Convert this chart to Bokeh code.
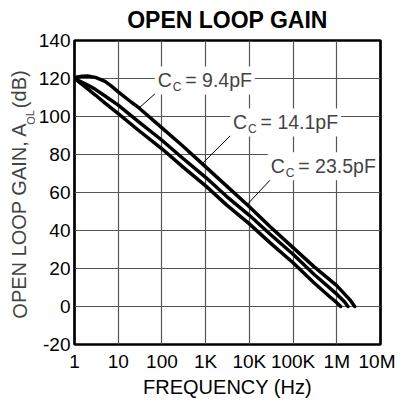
from bokeh.plotting import figure
from bokeh.models import FixedTicker, Label
from bokeh.layouts import row
from bokeh.embed import file_html
from bokeh.resources import INLINE

FONT = "Liberation Sans"

# ---- data ----
freq_94 = [1, 1.5, 2, 3, 5, 7, 10, 20, 30, 100, 300, 1e3, 3e3, 1e4, 3e4, 1e5, 3e5, 1e6, 2e6, 2.57e6]
gain_94 = [120.5, 121.2, 121.3, 120.6, 118.5, 116, 113, 107.5, 104.5, 94, 84.5, 73.5, 63.5, 52.5, 42, 31, 21, 11, 3.5, 0]

freq_141 = [1, 2, 3, 5, 10, 30, 100, 300, 1e3, 3e3, 1e4, 3e4, 1e5, 3e5, 1e6, 1.5e6, 1.8e6]
gain_141 = [120, 116.5, 114.3, 110.8, 106, 97, 87.5, 78, 68, 58, 48, 38, 27.5, 17, 6.5, 2.5, 0]

freq_235 = [1, 2, 3, 5, 10, 30, 100, 300, 1e3, 3e3, 1e4, 3e4, 1e5, 3e5, 7e5, 1e6, 1.23e6]
gain_235 = [120, 114.5, 111.3, 107, 101.5, 92.5, 83, 73.5, 63.5, 53.5, 43.5, 33.5, 23, 12.5, 5, 2, 0]

x_ticks = [1, 10, 100, 1e3, 1e4, 1e5, 1e6, 1e7]
x_tick_labels = ["1", "10", "100", "1K", "10K", "100K", "1M", "10M"]
y_ticks = [-20, 0, 20, 40, 60, 80, 100, 120, 140]
y_tick_labels = ["-20", "0", "20", "40", "60", "80", "100", "120", "140"]

# annotation texts and where they sit (Hz, dB)
cap_values = ["= 9.4pF", "= 14.1pF", "= 23.5pF"]
cap_text_f = [80.3, 4250, 30900]
cap_text_db = [119, 96.9, 73.8]
leader_f0 = [79, 4300, 32000]
leader_db0 = [113.1, 91.5, 67.3]
leader_f1 = [30, 830, 8700]
leader_db1 = [104.5, 75.1, 53.4]

# vertical axis title pieces: start position along the axis (dB)
ytitle_parts = ["OPEN LOOP GAIN, A", "OL", "(dB)"]
ytitle_start_db = [-6.4, 95.6, 104.4]

H = 400
LW = 35          # width of the strip holding the vertical axis title
W = 395 - LW

p = figure(width=W, height=H, x_axis_type="log", x_range=(1, 1e7), y_range=(-20, 140),
           output_backend="svg", toolbar_location=None,
           min_border_left=36, min_border_right=15, min_border_top=40, min_border_bottom=52)

p.title.text = "OPEN LOOP GAIN"
p.title.align = "center"
p.title.vertical_align = "top"
p.title.text_font = FONT
p.title.text_font_size = "23px"
p.title.text_font_style = "bold"
p.title.text_color = "black"
p.title.standoff = 11

p.xaxis.ticker = FixedTicker(ticks=x_ticks, minor_ticks=[])
p.xaxis.major_label_overrides = {t: l for t, l in zip(x_ticks, x_tick_labels)}
p.yaxis.ticker = FixedTicker(ticks=y_ticks, minor_ticks=[])
p.yaxis.major_label_overrides = {t: l for t, l in zip(y_ticks, y_tick_labels)}

for ax in (p.xaxis[0], p.yaxis[0]):
    ax.axis_line_color = None
    ax.major_tick_in = 0
    ax.major_tick_out = 0
    ax.minor_tick_in = 0
    ax.minor_tick_out = 0
    ax.major_label_text_font = FONT
    ax.major_label_text_font_size = "19px"
    ax.major_label_text_color = "black"

p.yaxis.major_label_standoff = 4
p.xaxis.major_label_standoff = 6
p.xaxis.axis_label = "FREQUENCY (Hz)"
p.xaxis.axis_label_text_font = FONT
p.xaxis.axis_label_text_font_size = "20px"
p.xaxis.axis_label_text_font_style = "normal"
p.xaxis.axis_label_text_color = "black"
p.xaxis.axis_label_standoff = 1

p.grid.grid_line_color = "#555555"
p.grid.grid_line_width = 1.2
p.outline_line_color = "black"
p.outline_line_width = 2.7
p.outline_line_alpha = 1

for fx, gy in ((freq_94, gain_94), (freq_141, gain_141), (freq_235, gain_235)):
    p.line(fx, gy, line_width=3.5, color="black", line_cap="round", line_join="round")

p.segment(x0=leader_f0, y0=leader_db0, x1=leader_f1, y1=leader_db1, line_width=1, color="black")

for txt, fx, gy in zip(cap_values, cap_text_f, cap_text_db):
    p.add_layout(Label(x=fx, y=gy, x_offset=-3, text="C    ", text_font=FONT, text_font_size="19.5px",
                       text_baseline="middle", text_align="left",
                       background_fill_color="white", padding=3))
    p.add_layout(Label(x=fx, y=gy, x_offset=15, y_offset=-7, text="C", text_font=FONT,
                       text_font_size="12px", text_baseline="middle", text_align="left"))
    p.add_layout(Label(x=fx, y=gy, x_offset=24.5, text=txt, text_font=FONT, text_font_size="19.5px",
                       text_baseline="middle", text_align="left",
                       background_fill_color="white", padding=3))

# narrow strip on the left carrying the vertical axis title (with subscript)
t = figure(width=LW, height=H, x_range=(0, LW), y_range=p.y_range,
           output_backend="svg", toolbar_location=None, min_border=0,
           x_axis_location=None, y_axis_location=None)
t.grid.visible = False
t.outline_line_color = None
for part, y0, cx, size in zip(ytitle_parts, ytitle_start_db, [19, 30, 19], ["20px", "11px", "20px"]):
    t.add_layout(Label(x=cx, y=y0, x_units="screen", y_units="data", angle=1.5708,
                       text=part, text_font=FONT, text_font_size=size,
                       text_baseline="middle", text_align="left"))

layout = row(t, p)
open("out.html", "w").write(file_html(layout, INLINE))
